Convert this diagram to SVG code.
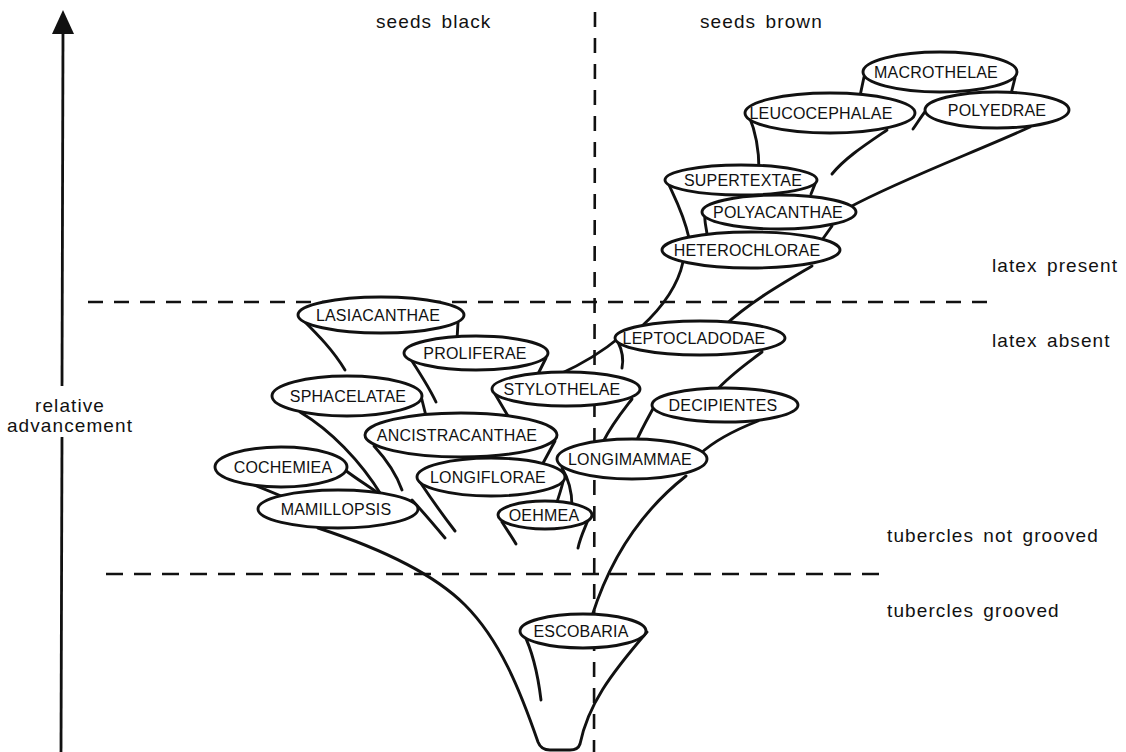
<svg xmlns="http://www.w3.org/2000/svg" width="1126" height="752" viewBox="0 0 1126 752">
  <style>
    .bg { fill: #ffffff; }
    .axis { stroke: #111; stroke-width: 2.8; fill: none; }
    .dash { stroke: #111; stroke-width: 2.6; fill: none; }
    .line { stroke: #111; stroke-width: 2.9; fill: none; stroke-linecap: round; stroke-linejoin: round; }
    .node ellipse { fill: #ffffff; stroke: #111; stroke-width: 2.9; }
    .node text { font-family: "Liberation Sans", Arial, sans-serif; font-size: 16px; fill: #111; text-anchor: middle; letter-spacing: 0.2px; }
    .note { font-family: "Liberation Sans", Arial, sans-serif; font-size: 19px; fill: #111; letter-spacing: 1.1px; word-spacing: 3px; }
  </style>

  <rect class="bg" x="0" y="0" width="1126" height="752"/>

  <!-- vertical axis: relative advancement -->
  <g id="axis">
    <polygon points="63,10 52,34 74,34" fill="#111"/>
    <line class="axis" x1="63" y1="32" x2="62" y2="386"/>
    <line class="axis" x1="62" y1="437" x2="61" y2="752"/>
    <text class="note" x="70" y="412" text-anchor="middle">relative</text>
    <text class="note" x="70" y="432" text-anchor="middle">advancement</text>
  </g>

  <!-- character boundaries -->
  <g id="boundaries">
    <path class="dash" d="M 595 12 L 594 752" stroke-dasharray="15 11"/>
    <path class="dash" d="M 88 302 L 995 302" stroke-dasharray="15 11"/>
    <path class="dash" d="M 106 574 L 888 574" stroke-dasharray="17 11"/>
  </g>

  <!-- character labels -->
  <g id="labels">
    <text class="note" x="376" y="28">seeds black</text>
    <text class="note" x="700" y="28">seeds brown</text>
    <text class="note" x="992" y="272">latex present</text>
    <text class="note" x="992" y="347">latex absent</text>
    <text class="note" x="887" y="542">tubercles not grooved</text>
    <text class="note" x="887" y="617">tubercles grooved</text>
  </g>

  <!-- funnels linking the sections -->
  <g id="connectors">
    <!-- main trunk -->
    <path class="line" d="M 318 528 C 370 545, 430 570, 465 605 S 520 690, 538 742 Q 541 750 550 750 L 570 750 Q 578 750 580 744 C 588 705, 610 675, 647 632"/>
    <path class="line" d="M 523 632 C 532 650, 538 675, 541 700"/>
    <path class="line" d="M 592 616 C 605 575, 630 520, 686 476"/>
    <!-- black-seeded branch -->
    <path class="line" d="M 412 500 C 424 513, 435 526, 445 538"/>
    <path class="line" d="M 420 482 C 432 500, 445 518, 455 531"/>
    <path class="line" d="M 374 446 C 385 458, 396 473, 402 490"/>
    <path class="line" d="M 300 412 C 330 430, 360 460, 382 496"/>
    <path class="line" d="M 345 470 C 358 480, 370 487, 382 496"/>
    <path class="line" d="M 252 484 L 286 498"/>
    <path class="line" d="M 303 320 C 318 335, 333 350, 345 370"/>
    <path class="line" d="M 458 322 L 457 340"/>
    <path class="line" d="M 406 352 C 418 370, 428 385, 436 402"/>
    <path class="line" d="M 546 358 L 537 376"/>
    <path class="line" d="M 421 396 L 426 416"/>
    <path class="line" d="M 495 394 L 508 416"/>
    <path class="line" d="M 555 441 L 542 465"/>
    <path class="line" d="M 563 482 C 561 490, 559 496, 556 505"/>
    <path class="line" d="M 562 468 C 568 478, 572 490, 572 506"/>
    <path class="line" d="M 502 522 C 507 530, 512 537, 516 544"/>
    <path class="line" d="M 588 520 C 584 530, 580 538, 578 548"/>
    <!-- brown-seeded branch -->
    <path class="line" d="M 632 399 C 622 412, 612 424, 603 442"/>
    <path class="line" d="M 560 374 Q 595 358 620 337"/>
    <path class="line" d="M 618 342 C 622 350, 624 358, 622 368"/>
    <path class="line" d="M 683 262 C 678 285, 665 305, 641 327"/>
    <path class="line" d="M 812 266 C 780 285, 750 302, 724 326"/>
    <path class="line" d="M 762 352 C 745 365, 730 375, 715 392"/>
    <path class="line" d="M 655 405 C 648 418, 642 428, 636 442"/>
    <path class="line" d="M 758 421 C 735 430, 715 440, 700 454"/>
    <path class="line" d="M 669 185 C 676 200, 684 215, 689 238"/>
    <path class="line" d="M 815 184 L 811 194"/>
    <path class="line" d="M 705 214 C 704 220, 706 226, 707 234"/>
    <path class="line" d="M 832 226 L 822 240"/>
    <path class="line" d="M 1030 127 C 980 150, 900 180, 850 207"/>
    <path class="line" d="M 887 130 C 865 145, 845 158, 832 174"/>
    <path class="line" d="M 749 116 C 755 130, 759 145, 759 170"/>
    <path class="line" d="M 864 77 L 860 96"/>
    <path class="line" d="M 1015 78 L 1011 94"/>
    <path class="line" d="M 928 108 C 922 115, 918 122, 913 129"/>
  </g>

  <!-- sections, back to front -->
  <g id="macrothelae" class="node"><ellipse cx="940" cy="72" rx="77" ry="20"/><text x="936" y="78">MACROTHELAE</text></g>
  <g id="leucocephalae" class="node"><ellipse cx="830" cy="113" rx="85" ry="20"/><text x="821" y="119">LEUCOCEPHALAE</text></g>
  <g id="polyedrae" class="node"><ellipse cx="997" cy="110" rx="72" ry="18"/><text x="997" y="116">POLYEDRAE</text></g>
  <g id="supertextae" class="node"><ellipse cx="741" cy="180" rx="76" ry="15"/><text x="743" y="186">SUPERTEXTAE</text></g>
  <g id="polyacanthae" class="node"><ellipse cx="779" cy="212" rx="77" ry="17"/><text x="778" y="218">POLYACANTHAE</text></g>
  <g id="heterochlorae" class="node"><ellipse cx="751" cy="250" rx="89" ry="18"/><text x="747" y="256">HETEROCHLORAE</text></g>
  <g id="lasiacanthae" class="node"><ellipse cx="381" cy="315" rx="83" ry="18"/><text x="378" y="321">LASIACANTHAE</text></g>
  <g id="leptocladodae" class="node"><ellipse cx="700" cy="338" rx="85" ry="17"/><text x="694" y="344">LEPTOCLADODAE</text></g>
  <g id="proliferae" class="node"><ellipse cx="476" cy="353" rx="72" ry="17"/><text x="475" y="359">PROLIFERAE</text></g>
  <g id="stylothelae" class="node"><ellipse cx="566" cy="389" rx="74" ry="17"/><text x="562" y="395">STYLOTHELAE</text></g>
  <g id="sphacelatae" class="node"><ellipse cx="347" cy="396" rx="75" ry="20"/><text x="348" y="402">SPHACELATAE</text></g>
  <g id="decipientes" class="node"><ellipse cx="725" cy="405" rx="73" ry="17"/><text x="723" y="411">DECIPIENTES</text></g>
  <g id="ancistracanthae" class="node"><ellipse cx="461" cy="435" rx="96" ry="22"/><text x="457" y="441">ANCISTRACANTHAE</text></g>
  <g id="longimammae" class="node"><ellipse cx="632" cy="459" rx="75" ry="20"/><text x="630" y="465">LONGIMAMMAE</text></g>
  <g id="cochemiea" class="node"><ellipse cx="281" cy="467" rx="66" ry="20"/><text x="283" y="473">COCHEMIEA</text></g>
  <g id="longiflorae" class="node"><ellipse cx="491" cy="477" rx="74" ry="19"/><text x="488" y="483">LONGIFLORAE</text></g>
  <g id="mamillopsis" class="node"><ellipse cx="338" cy="509" rx="80" ry="19"/><text x="336" y="515">MAMILLOPSIS</text></g>
  <g id="oehmea" class="node"><ellipse cx="545" cy="515" rx="47" ry="14"/><text x="544" y="521">OEHMEA</text></g>
  <g id="escobaria" class="node"><ellipse cx="583" cy="631" rx="63" ry="17"/><text x="581" y="637">ESCOBARIA</text></g>
</svg>
